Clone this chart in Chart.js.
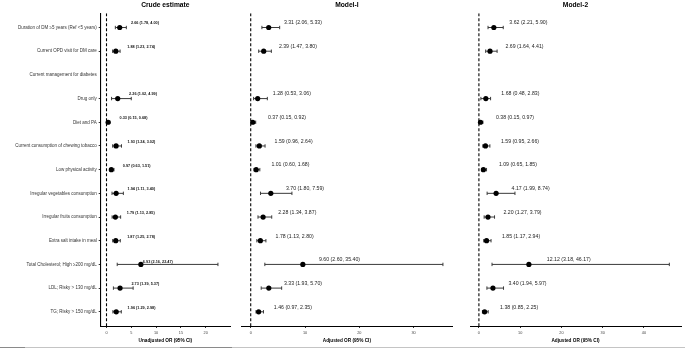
<!DOCTYPE html>
<html><head><meta charset="utf-8">
<script src="https://cdn.jsdelivr.net/npm/chart.js@4/dist/chart.umd.min.js"></script>
<style>
html,body{margin:0;padding:0;background:#fff;width:685px;height:351px;overflow:hidden;position:relative}
canvas{position:absolute;top:0}
#rule{position:absolute;left:0;top:347px;width:685px;height:1px;background:#c4c4c4}
.dk{position:absolute;top:347px;height:1px;background:#8a8a8a}
</style></head><body>
<canvas id="c1" width="234" height="351" style="left:0px"></canvas>
<canvas id="c2" width="225" height="351" style="left:232px"></canvas>
<canvas id="c3" width="225" height="351" style="left:460px"></canvas>
<div id="rule"></div>
<div class="dk" style="left:0;width:25px"></div>
<div class="dk" style="left:180px;width:52px"></div>
<script>
// ---- data ----
const rowLabels = [
  "Duration of DM \u22655 years (Ref <5 years)",
  "Current OPD visit for DM care",
  "Current management for diabetes",
  "Drug only",
  "Diet and PA",
  "Current consumption of chewing tobacco",
  "Low physical activity",
  "Irregular vegetables consumption",
  "Irregular fruits consumption",
  "Extra salt intake in meal",
  "Total Cholesterol; High \u2265200 mg/dL",
  "LDL; Risky > 130 mg/dL",
  "TG; Risky > 150 mg/dL"
];
const panelTitles = ["Crude estimate", "Model-I", "Model-2"];
const axisTitles = ["Unadjusted OR (95% CI)", "Adjusted OR (95% CI)", "Adjusted OR (95% CI)"];

const crudeOR = [2.66, 1.88, null, 2.26, 0.33, 1.93, 0.97, 1.94, 1.79, 1.87, 6.93, 2.73, 1.96];
const crudeLo = [1.78, 1.23, null, 1.02, 0.15, 1.24, 0.63, 1.11, 1.13, 1.25, 2.16, 1.39, 1.29];
const crudeHi = [4.00, 2.74, null, 4.99, 0.68, 3.02, 1.51, 3.40, 2.85, 2.78, 22.47, 5.37, 2.98];

const m1OR = [3.31, 2.39, null, 1.28, 0.37, 1.59, 1.01, 3.70, 2.28, 1.78, 9.60, 3.33, 1.46];
const m1Lo = [2.06, 1.47, null, 0.53, 0.15, 0.96, 0.60, 1.80, 1.34, 1.13, 2.60, 1.93, 0.97];
const m1Hi = [5.33, 3.80, null, 3.06, 0.92, 2.64, 1.68, 7.59, 3.87, 2.80, 35.40, 5.70, 2.35];

const m2OR = [3.62, 2.69, null, 1.68, 0.38, 1.59, 1.09, 4.17, 2.20, 1.85, 12.12, 3.40, 1.38];
const m2Lo = [2.21, 1.64, null, 0.48, 0.15, 0.95, 0.65, 1.99, 1.27, 1.17, 3.18, 1.94, 0.85];
const m2Hi = [5.90, 4.41, null, 2.83, 0.97, 2.66, 1.85, 8.74, 3.79, 2.94, 46.17, 5.97, 2.25];

const crudeTicks = [0, 5, 10, 15, 20];
const m1Ticks = [0, 10, 20, 30];
const m2Ticks = [0, 10, 20, 30, 40];
const refValue = 0;

// ---- drawing ----
const FONT = "'Liberation Sans', Arial, Helvetica, sans-serif";
Chart.defaults.font.family = FONT;

function labelPlugin(or, lo, hi, st) {
  return {
    id: 'valueLabels',
    afterDatasetsDraw(chart) {
      const {ctx, scales: {x, y}} = chart;
      ctx.save();
      ctx.font = st.font;
      ctx.fillStyle = st.color;
      ctx.textAlign = 'left';
      ctx.textBaseline = 'middle';
      or.forEach((v, i) => {
        if (v == null) return;
        const adj = st.shift[i] || {};
        const px = x.getPixelForValue(v) + (adj.dx !== undefined ? adj.dx : st.dx);
        const py = y.getPixelForValue(i + 1) + (adj.dy !== undefined ? adj.dy : st.dy);
        ctx.fillText(v.toFixed(2) + ' (' + lo[i].toFixed(2) + ', ' + hi[i].toFixed(2) + ')', px, py);
      });
      ctx.restore();
    }
  };
}

function makeChart(id, or, lo, hi, ticks, idx, st) {
  const datasets = [];
  datasets.push({
    type: 'line',
    data: [{x: refValue, y: 0.4}, {x: refValue, y: 13.6}],
    borderColor: '#000', borderWidth: 1.1, borderDash: [3, 2],
    pointRadius: 0, order: 3
  });
  or.forEach((v, i) => {
    if (v == null) return;
    datasets.push({
      type: 'line',
      data: [{x: lo[i], y: i + 1}, {x: hi[i], y: i + 1}],
      borderColor: '#3a3a3a', borderWidth: 1,
      pointStyle: 'line', pointRotation: 90, pointRadius: 1.7,
      pointBorderWidth: 1, pointBorderColor: '#3a3a3a',
      pointHoverRadius: 1.7, order: 2
    });
  });
  datasets.push({
    type: 'scatter',
    data: or.map((v, i) => v == null ? null : {x: v, y: i + 1}).filter(d => d),
    backgroundColor: '#000', borderColor: '#000', pointRadius: 2.6, borderWidth: 0, order: 1
  });

  return new Chart(document.getElementById(id), {
    type: 'scatter',
    data: {datasets},
    options: {
      responsive: false, animation: false, devicePixelRatio: 1,
      layout: {padding: st.pad},
      plugins: {
        legend: {display: false}, tooltip: {enabled: false},
        title: {
          display: true, text: panelTitles[idx], fullSize: false,
          color: '#000', font: {size: 6.7, weight: 'bold', lineHeight: 1.2},
          padding: {top: 1, bottom: 4.26}
        }
      },
      scales: {
        x: {
          type: 'linear', min: st.xmin, max: st.xmax,
          afterBuildTicks: s => { s.ticks = ticks.map(v => ({value: v})); },
          afterFit: s => { s.height = 25; },
          grid: {drawOnChartArea: false, tickLength: 2, color: '#333', tickColor: '#333'},
          border: {display: true, color: '#000', width: 1},
          ticks: {color: '#444', font: {size: 3.8}, padding: 2.6, maxRotation: 0, autoSkip: false},
          title: {display: true, text: axisTitles[idx], color: '#000',
                  font: {size: 4.7, weight: 'bold', lineHeight: 1.2}, padding: {top: 0, bottom: 7.2}}
        },
        y: {
          type: 'linear', min: 0.4, max: 13.6, reverse: true, display: st.showY,
          afterBuildTicks: s => { s.ticks = rowLabels.map((_, i) => ({value: i + 1})); },
          afterFit: s => { s.width = st.showY ? 100.7 : 0; },
          grid: {drawOnChartArea: false, tickLength: 2,
                 tickColor: c => (or[c.index] == null ? 'rgba(0,0,0,0)' : '#333')},
          border: {display: true, color: '#000', width: 1.1},
          ticks: {color: '#333', font: {size: 4.5}, padding: 2, autoSkip: false,
                  callback: v => rowLabels[v - 1]}
        }
      }
    },
    plugins: [labelPlugin(or, lo, hi, st)]
  });
}

makeChart('c1', crudeOR, crudeLo, crudeHi, crudeTicks, 0, {
  pad: {left: 0, right: 4, top: 0, bottom: 0}, xmin: -1.17, xmax: 24.9, showY: true,
  font: "bold 3.8px " + FONT, color: '#111', dx: 11.4, dy: -4.2,
  shift: {10: {dx: 2, dy: -2.6}}
});
makeChart('c2', m1OR, m1Lo, m1Hi, m1Ticks, 1, {
  pad: {left: 9, right: 4.3, top: 0, bottom: 0}, xmin: -1.79, xmax: 37.2, showY: false,
  font: "5.2px " + FONT, color: '#222', dx: 15.2, dy: -4.6,
  shift: {10: {dx: 16.2}}
});
makeChart('c3', m2OR, m2Lo, m2Hi, m2Ticks, 2, {
  pad: {left: 10, right: 2, top: 0, bottom: 0}, xmin: -2.16, xmax: 49.0, showY: false,
  font: "5.2px " + FONT, color: '#222', dx: 15.5, dy: -4.6,
  shift: {10: {dx: 17.9}}
});
</script>
</body></html>
